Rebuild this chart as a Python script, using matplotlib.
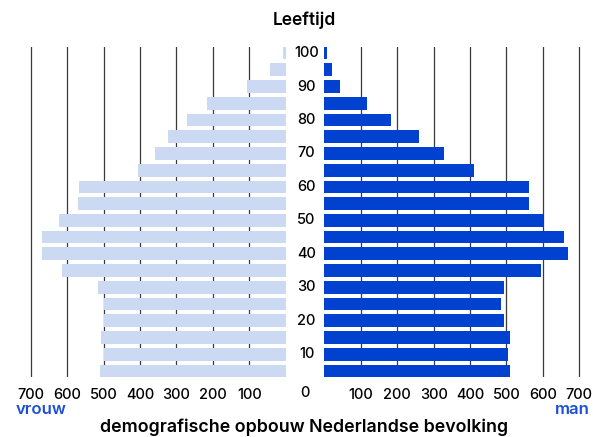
import matplotlib
matplotlib.use("Agg")
import matplotlib.pyplot as plt
from matplotlib import transforms

# age groups, bottom to top
ages = list(range(5, 105, 5))
man = [510, 505, 510, 494, 485, 494, 594, 668, 659, 601,
       562, 562, 411, 329, 260, 184, 117, 43, 21, 7]
vrouw = [510, 498, 507, 498, 498, 514, 615, 668, 670, 621,
         571, 566, 405, 359, 323, 271, 216, 105, 42, 8]
age_labels = [10, 20, 30, 40, 50, 60, 70, 80, 90, 100]
x_ticks = [100, 200, 300, 400, 500, 600, 700]

plt.rcParams['font.family'] = ['Inter', 'DejaVu Sans']

c_man = '#0041cf'
c_vrouw = '#cbd9f3'
c_label = '#1a4fd6'

fig = plt.figure(figsize=(5.93, 4.37), dpi=100)
ax_l = fig.add_axes([0.0394, 0.1366, 0.4425, 0.7564])
ax_r = fig.add_axes([0.5468, 0.1366, 0.4425, 0.7564])

pos = list(range(len(ages)))
ax_l.barh(pos, vrouw, height=0.76, color=c_vrouw, zorder=3)
ax_r.barh(pos, man, height=0.76, color=c_man, zorder=3)

for ax in (ax_l, ax_r):
    ax.set_ylim(-0.38, len(ages) - 0.62)
    ax.set_xticks(x_ticks)
    ax.set_xticklabels([str(t) for t in x_ticks], fontsize=10.5, fontweight='medium')
    ax.tick_params(axis='x', length=0, pad=8)
    ax.set_yticks([])
    for s in ax.spines.values():
        s.set_visible(False)
    ax.grid(axis='x', color='#3a3a3a', linewidth=0.9, zorder=0)
    ax.set_axisbelow(True)

ax_l.set_xlim(720, 0)
ax_r.set_xlim(0, 720)

# age labels in the middle
trans = transforms.blended_transform_factory(fig.transFigure, ax_r.transData)
for a in age_labels:
    fig.text(0.517, ages.index(a), str(a), transform=trans, ha='center', va='center',
             fontsize=10.5, fontweight='medium')

fig.text(0.514, 1 - 392.7 / 437, '0', ha='center', va='center', fontsize=10.5, fontweight='medium')
fig.text(0.514, 1 - 20 / 437, 'Leeftijd', ha='center', va='center', fontsize=12.5, fontweight='semibold')
fig.text(0.027, 1 - 410 / 437, 'vrouw', ha='left', va='center', fontsize=12, fontweight='semibold', color=c_label)
fig.text(0.995, 1 - 410 / 437, 'man', ha='right', va='center', fontsize=12, fontweight='semibold', color=c_label)
fig.text(0.512, 1 - 427 / 437, 'demografische opbouw Nederlandse bevolking', ha='center', va='center',
         fontsize=12.8, fontweight='semibold')

fig.savefig('out.png', dpi=100)
